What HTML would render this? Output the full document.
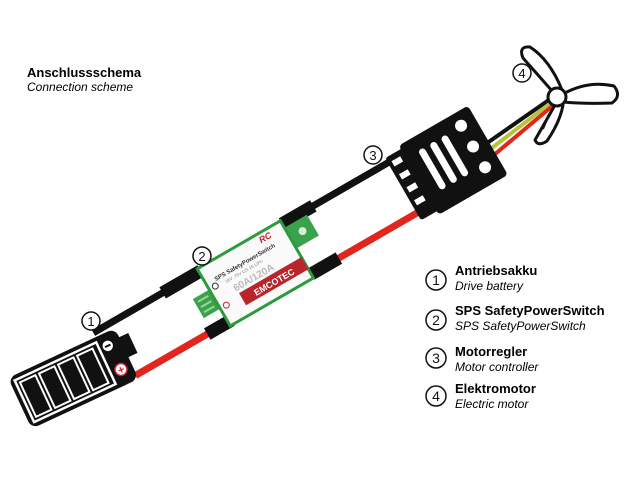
<!DOCTYPE html>
<html><head><meta charset="utf-8"><style>
html,body{margin:0;padding:0;background:#fff;}
svg{display:block;font-family:"Liberation Sans",Arial,sans-serif;}
</style></head><body>
<svg width="640" height="480" viewBox="0 0 640 480" xmlns="http://www.w3.org/2000/svg">
<rect width="640" height="480" fill="#fff"/>
<text x="27" y="77" font-size="13" font-weight="bold" fill="#000">Anschlussschema</text>
<text x="27" y="91" font-size="12" font-style="italic" fill="#000">Connection scheme</text>

<g stroke-linecap="round">
<line x1="480" y1="148" x2="556" y2="95" stroke="#111" stroke-width="4"/>
<line x1="484" y1="154" x2="556" y2="99" stroke="#b9c23a" stroke-width="4"/>
<line x1="488" y1="160" x2="556" y2="103" stroke="#e0261d" stroke-width="4"/>
</g>

<g transform="translate(8,385) rotate(-30)">
  <rect x="100" y="-6" width="350" height="7" fill="#111"/>
  <rect x="115" y="52" width="335" height="7" fill="#e0261d"/>
  <rect x="180" y="-9" width="44" height="13" fill="#111"/>
  <rect x="318" y="-9" width="36" height="13" fill="#111"/>
  <rect x="198" y="49" width="28" height="13" fill="#111"/>
  <rect x="318" y="49" width="32" height="13" fill="#111"/>
  <!-- SPS -->
  <rect x="203" y="18" width="22" height="22" fill="#3aa24a"/>
  <rect x="206" y="22" width="12" height="2" fill="#9ed39a"/>
  <rect x="206" y="28" width="12" height="2" fill="#9ed39a"/>
  <rect x="206" y="34" width="12" height="2" fill="#9ed39a"/>
  <rect x="316" y="2" width="28" height="24" fill="#3aa24a"/>
  <circle cx="332" cy="14" r="4" fill="#d8eed6"/>
  <rect x="222" y="-6" width="96" height="66" fill="#fafafa" stroke="#2e9a3e" stroke-width="3"/>
  <rect x="246" y="36" width="72" height="14" fill="#b8252a"/>
  <text x="282" y="47" font-size="9" font-weight="bold" fill="#fff" text-anchor="middle">EMCOTEC</text>
  <text x="232" y="14" font-size="6" font-weight="bold" fill="#333">SPS SafetyPowerSwitch</text>
  <text x="240" y="21" font-size="4.5" fill="#888">16V..76V LiS 16 LiPo</text>
  <text x="244" y="33" font-size="10" font-weight="bold" fill="#bbb">60A/120A</text>
  <text x="290" y="4" font-size="9" font-weight="bold" font-style="italic" fill="#c8202a">RC</text>
  <circle cx="229" cy="18" r="3" fill="none" stroke="#333" stroke-width="1"/>
  <circle cx="229" cy="40" r="3" fill="none" stroke="#c8202a" stroke-width="1"/>
  <!-- ESC -->
  <rect x="440" y="-8" width="24" height="72" rx="3" fill="#111"/>
  <rect x="458" y="-12" width="80" height="80" rx="4" fill="#111"/>
  <rect x="444" y="-2" width="10" height="6" fill="#fff"/>
  <rect x="444" y="13" width="10" height="6" fill="#fff"/>
  <rect x="444" y="28" width="10" height="6" fill="#fff"/>
  <rect x="444" y="43" width="10" height="6" fill="#fff"/>
  <rect x="472" y="2" width="7" height="46" rx="3.5" fill="#fff"/>
  <rect x="485" y="2" width="7" height="46" rx="3.5" fill="#fff"/>
  <rect x="498" y="2" width="7" height="46" rx="3.5" fill="#fff"/>
  <circle cx="522" cy="2" r="6" fill="#fff"/>
  <circle cx="522" cy="26" r="6" fill="#fff"/>
  <circle cx="522" cy="50" r="6" fill="#fff"/>
</g>

<!-- battery -->
<g transform="translate(8,378) rotate(-25)">
  <rect x="0" y="0" width="118" height="56" rx="8" fill="#111"/>
  <rect x="116" y="10" width="12" height="22" fill="#111"/>
  <rect x="5" y="5" width="90" height="46" fill="none" stroke="#fff" stroke-width="2.5"/>
  <rect x="9" y="9" width="17" height="38" fill="#111" stroke="#fff" stroke-width="2"/>
  <rect x="30" y="9" width="17" height="38" fill="#111" stroke="#fff" stroke-width="2"/>
  <rect x="51" y="9" width="17" height="38" fill="#111" stroke="#fff" stroke-width="2"/>
  <rect x="72" y="9" width="17" height="38" fill="#111" stroke="#fff" stroke-width="2"/>
  <circle cx="104" cy="13" r="6" fill="#fff" stroke="#111" stroke-width="1.5"/>
  <rect x="101" y="12" width="6" height="2" fill="#111"/>
  <circle cx="106" cy="40" r="6" fill="#fff" stroke="#d0203a" stroke-width="1.5"/>
  <text x="106" y="44" font-size="11" font-weight="bold" fill="#d0203a" text-anchor="middle">+</text>
</g>

<!-- propeller -->
<g stroke="#111" stroke-width="3" fill="#fff" stroke-linejoin="round">
<path d="M553,92 L523,58 Q518,46 530,47 Q550,60 562,90 Z"/>
<path d="M563,94 Q588,80 614,86 Q622,96 612,103 Q585,104 563,102 Z"/>
<path d="M555,105 L535,140 Q538,147 547,141 Q560,122 563,105 Z"/>
<circle cx="557" cy="97" r="9"/>
</g>
<line x1="549" y1="114" x2="543" y2="129" stroke="#111" stroke-width="2"/>

<g fill="#fff" stroke="#111" stroke-width="1.5">
<circle cx="91" cy="321" r="9"/><circle cx="202" cy="256" r="9"/>
<circle cx="373" cy="155" r="9"/><circle cx="522" cy="73" r="9"/>
</g>
<g font-size="13" text-anchor="middle" fill="#111">
<text x="91" y="326">1</text><text x="202" y="261">2</text>
<text x="373" y="160">3</text><text x="522" y="78">4</text>
</g>

<g fill="#fff" stroke="#111" stroke-width="1.5">
<circle cx="436" cy="280" r="10"/><circle cx="436" cy="320" r="10"/>
<circle cx="436" cy="358" r="10"/><circle cx="436" cy="396" r="10"/>
</g>
<g font-size="14" text-anchor="middle" fill="#111">
<text x="436" y="285">1</text><text x="436" y="325">2</text>
<text x="436" y="363">3</text><text x="436" y="401">4</text>
</g>
<g fill="#000">
<text x="455" y="275" font-size="13" font-weight="bold">Antriebsakku</text>
<text x="455" y="290" font-size="12" font-style="italic">Drive battery</text>
<text x="455" y="315" font-size="13" font-weight="bold">SPS SafetyPowerSwitch</text>
<text x="455" y="330" font-size="12" font-style="italic">SPS SafetyPowerSwitch</text>
<text x="455" y="356" font-size="13" font-weight="bold">Motorregler</text>
<text x="455" y="371" font-size="12" font-style="italic">Motor controller</text>
<text x="455" y="393" font-size="13" font-weight="bold">Elektromotor</text>
<text x="455" y="408" font-size="12" font-style="italic">Electric motor</text>
</g>
</svg>
</body></html>
